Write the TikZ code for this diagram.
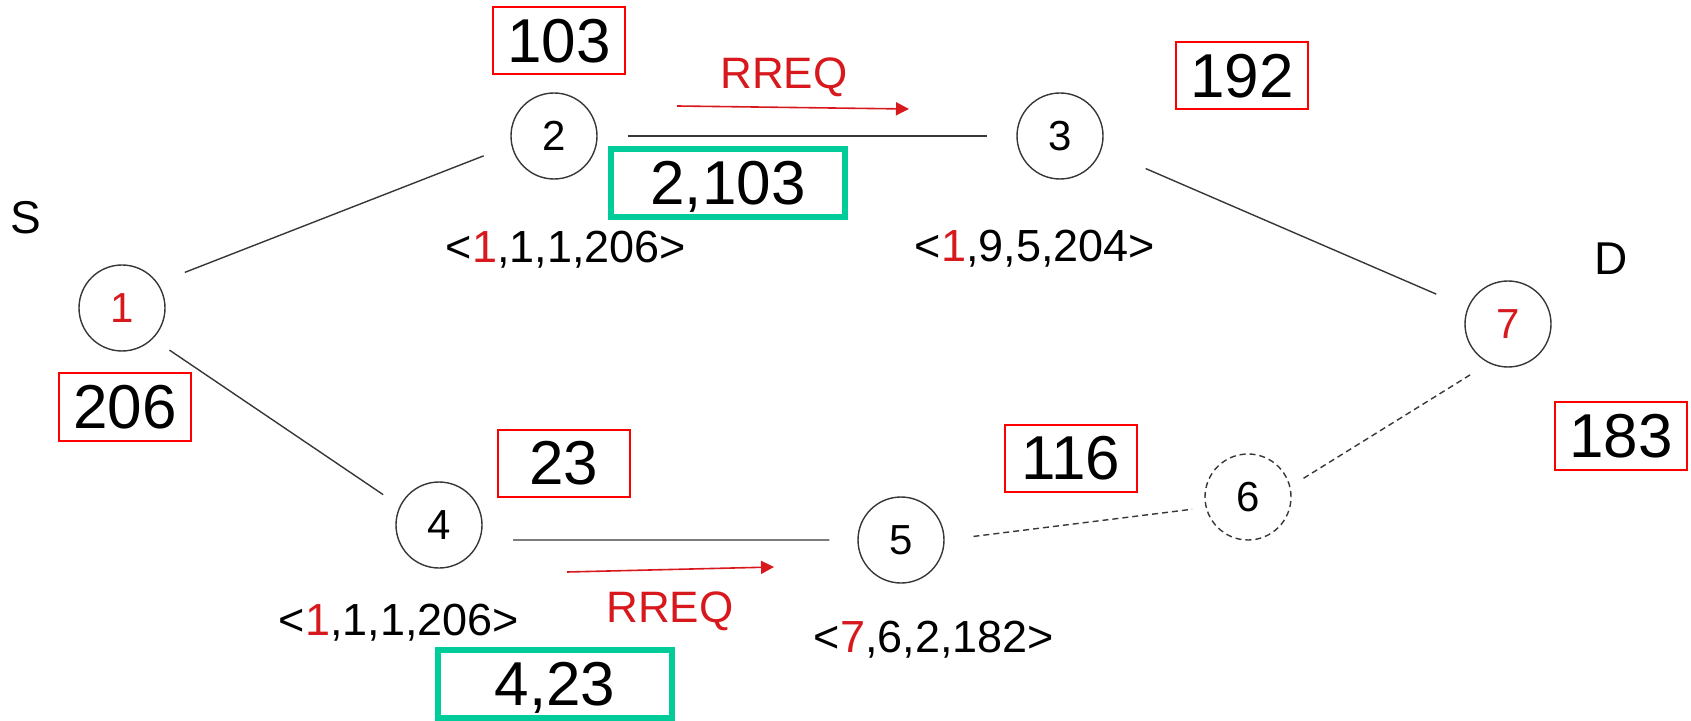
\documentclass[tikz,border=0pt]{standalone}
\usepackage{fontspec}
\setmainfont{Liberation Sans}
\usetikzlibrary{arrows.meta}
\definecolor{linkgray}{RGB}{55,55,55}
\definecolor{boxred}{RGB}{255,0,0}
\definecolor{txtred}{RGB}{215,25,30}
\definecolor{seqgreen}{RGB}{0,204,153}

\begin{document}
\begin{tikzpicture}[x=0.5pt,y=-0.5pt,
  station/.style={circle,draw=linkgray,line width=0.7pt,minimum size=43pt,inner sep=0pt,
    text depth=0pt,font=\fontsize{21}{24}\selectfont},
  idle/.style={station,dash pattern=on 3pt off 2pt},
  link/.style={draw=linkgray,line width=0.7pt},
  weak/.style={link,dash pattern=on 3pt off 2pt},
  hop/.style={draw=txtred,line width=0.8pt,-{Triangle[length=6.5pt,width=6.5pt]}},
  cost/.style={draw=boxred,line width=1pt,minimum width=66pt,minimum height=33.5pt,
    inner sep=0pt,text depth=0pt,font=\fontsize{31}{34}\selectfont},
  route/.style={draw=seqgreen,line width=3pt,minimum width=117pt,minimum height=34pt,
    inner sep=0pt,text depth=0pt,font=\fontsize{31}{34}\selectfont},
  entry/.style={inner sep=0pt,text depth=0pt,font=\fontsize{22.5}{26}\selectfont},
  tag/.style={inner sep=0pt,text depth=0pt,font=\fontsize{23}{26}\selectfont},
  msg/.style={inner sep=0pt,text depth=0pt,text=txtred,font=\fontsize{22}{26}\selectfont}
]
\useasboundingbox (0,0) rectangle (1691,721);

% stations
\node[station] (n1) at (122,308) {\textcolor{txtred}{1}};
\node[station] (n2) at (554,136) {2};
\node[station] (n3) at (1060,136) {3};
\node[station] (n4) at (439,525) {4};
\node[station] (n5) at (901,540) {5};
\node[idle]    (n6) at (1248,497) {6};
\node[station] (n7) at (1508,324) {\textcolor{txtred}{7}};

% source and destination marks
\node[tag] (src) at (26,217) {S};
\node[tag] (dst) at (1611,259) {D};

% links
\draw[link,shorten <=14.5pt,shorten >=14.8pt] (n1.35) -- (n2.192);
\draw[link,shorten <=15pt,shorten >=14.5pt] (n2) -- (n3);
\draw[link,shorten <=24pt,shorten >=17pt] (n3.-18) -- (n7.158);
\draw[link,shorten <=10pt,shorten >=10pt] (n1.-45) -- (n4.154);
\draw[link,shorten <=16.5pt,shorten >=14pt] (n4.-20) -- (n5.west);
\draw[weak,shorten <=14.5pt,shorten >=6.8pt] (n5.east) -- (n6.194);
\draw[weak,shorten <=7.75pt,shorten >=10pt] (n6.14) -- (n7.244);

% route request messages
\coordinate (r1s) at (677,106);
\coordinate (r1e) at (909,109);
\coordinate (r2s) at (567,572);
\coordinate (r2e) at (774,567);
\draw[hop] (r1s) -- (r1e);
\draw[hop] (r2s) -- (r2e);
\node[msg] (m1) at (784,73) {RREQ};
\node[msg] (m2) at (670,607) {RREQ};

% routing table entries
\node[entry] (e2) at (566,247) {<\textcolor{txtred}{1},1,1,206>};
\node[entry] (e3) at (1035,246) {<\textcolor{txtred}{1},9,5,204>};
\node[entry] (e4) at (399,620) {<\textcolor{txtred}{1},1,1,206>};
\node[entry] (e5) at (934,637) {<\textcolor{txtred}{7},6,2,182>};

% costs
\node[cost] (c2) at (559,41) {103};
\node[cost] (c3) at (1242,76) {192};
\node[cost] (c1) at (125,407) {206};
\node[cost] (c4) at (564,463) {23};
\node[cost] (c5) at (1071,458) {116};
\node[cost] (c7) at (1621,436) {183};

% accumulated routes
\node[route] (p2) at (728,183) {2,103};
\node[route] (p4) at (555,684) {4,23};
\end{tikzpicture}
\end{document}
